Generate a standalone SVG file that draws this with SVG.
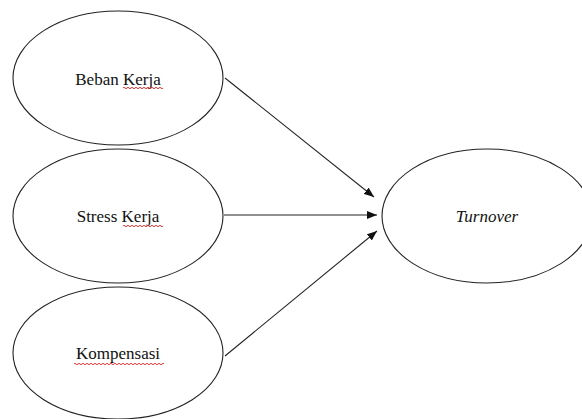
<svg xmlns="http://www.w3.org/2000/svg" width="582" height="419" viewBox="0 0 582 419">
<style>
.node{fill:#fff;stroke:#222;stroke-width:1.1}
.lbl{font-family:'Liberation Serif','DejaVu Serif',serif;font-size:17px;fill:#111;text-anchor:middle}
.edge{stroke:#222;stroke-width:1.1;fill:none;marker-end:url(#ah)}
.sq{stroke:#e02020;stroke-width:0.9;fill:none}
</style>
<defs>
<marker id="ah" markerWidth="10" markerHeight="8" refX="10" refY="4" orient="auto" markerUnits="userSpaceOnUse">
<path d="M0,0 L10,4 L0,8 Z" fill="#111"/>
</marker>
</defs>
<rect width="582" height="419" fill="#fff"/>
<g id="beban">
<ellipse class="node" cx="118" cy="78" rx="105" ry="67"/>
<text class="lbl" font-family="Liberation Serif, serif" x="118" y="85">Beban Kerja</text>
<path class="sq" d="M123,88 q1,-1.5 2,0 t2,0 t2,0 t2,0 t2,0 t2,0 t2,0 t2,0 t2,0 t2,0 t2,0 t2,0 t2,0 t2,0 t2,0 t2,0 t2,0 t2,0 t2,0 t2,0"/>
</g>
<g id="stress">
<ellipse class="node" cx="118" cy="216" rx="105" ry="67"/>
<text class="lbl" font-family="Liberation Serif, serif" x="118" y="222">Stress Kerja</text>
<path class="sq" d="M123,226 q1,-1.5 2,0 t2,0 t2,0 t2,0 t2,0 t2,0 t2,0 t2,0 t2,0 t2,0 t2,0 t2,0 t2,0 t2,0 t2,0 t2,0 t2,0 t2,0 t2,0 t2,0"/>
</g>
<g id="kompensasi">
<ellipse class="node" cx="118" cy="353" rx="105" ry="66"/>
<text class="lbl" font-family="Liberation Serif, serif" x="118" y="359">Kompensasi</text>
<path class="sq" d="M74,364 q1,-1.5 2,0 t2,0 t2,0 t2,0 t2,0 t2,0 t2,0 t2,0 t2,0 t2,0 t2,0 t2,0 t2,0 t2,0 t2,0 t2,0 t2,0 t2,0 t2,0 t2,0 t2,0 t2,0 t2,0 t2,0 t2,0 t2,0 t2,0 t2,0 t2,0 t2,0 t2,0 t2,0 t2,0 t2,0 t2,0 t2,0 t2,0 t2,0 t2,0 t2,0 t2,0 t2,0 t2,0 t2,0 t2,0"/>
</g>
<g id="turnover">
<ellipse class="node" cx="487" cy="216" rx="105" ry="67"/>
<text class="lbl" font-family="Liberation Serif, serif" x="487" y="222" font-style="italic">Turnover</text>
</g>
<g id="connectors">
<line class="edge" x1="225" y1="78" x2="374" y2="197"/>
<line class="edge" x1="224" y1="215" x2="377" y2="215"/>
<line class="edge" x1="225" y1="356" x2="377" y2="231"/>
</g>
</svg>
